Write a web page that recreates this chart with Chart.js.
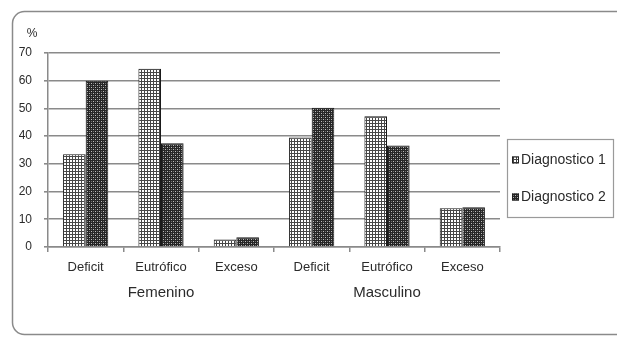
<!DOCTYPE html>
<html>
<head>
<meta charset="utf-8">
<script src="https://cdn.jsdelivr.net/npm/chart.js@4/dist/chart.umd.min.js"></script>
<style>
  html, body { margin: 0; padding: 0; background: #fff; }
  #wrap { width: 617px; height: 338px; position: relative; }
</style>
</head>
<body>
<div id="wrap"><canvas id="c" width="617" height="338"></canvas></div>
<script>
// Nutritional status categories, repeated for each sex
const categories = ['Deficit', 'Eutrófico', 'Exceso', 'Deficit', 'Eutrófico', 'Exceso'];
const groups = ['Femenino', 'Masculino'];
const seriesNames = ['Diagnostico 1', 'Diagnostico 2'];
const diagnostico1 = [33.5, 64.3, 2.7, 39.5, 47.2, 14.0];
const diagnostico2 = [60.0, 37.4, 3.5, 50.2, 36.6, 14.3];
const yTicks = [0, 10, 20, 30, 40, 50, 60, 70];

const FONT = '"Liberation Sans", Arial, sans-serif';
const TEXT = '#2b2b2b';
const GRID = '#8a8a8a';

// Fine grid hatch
function gridPattern() {
  const t = document.createElement('canvas');
  t.width = 3; t.height = 3;
  const g = t.getContext('2d');
  g.fillStyle = '#ffffff'; g.fillRect(0, 0, 3, 3);
  g.fillStyle = '#474747';
  g.fillRect(0, 0, 3, 1);
  g.fillRect(0, 0, 1, 3);
  return g.createPattern(t, 'repeat');
}
// Dark dotted hatch
function dotPattern() {
  const t = document.createElement('canvas');
  t.width = 4; t.height = 4;
  const g = t.getContext('2d');
  g.fillStyle = '#262626'; g.fillRect(0, 0, 4, 4);
  g.fillStyle = '#bdbdbd';
  g.fillRect(1, 1, 1, 1);
  g.fillRect(3, 3, 1, 1);
  g.fillStyle = '#6e6e6e';
  g.fillRect(3, 1, 1, 1);
  g.fillRect(1, 3, 1, 1);
  return g.createPattern(t, 'repeat');
}

const fills = [gridPattern(), dotPattern()];

// Rounded frame, percent sign and boxed legend
const decor = {
  id: 'decor',
  beforeDraw(chart) {
    const ctx = chart.ctx;
    ctx.save();
    ctx.fillStyle = '#fff';
    ctx.fillRect(0, 0, chart.width, chart.height);
    ctx.strokeStyle = '#8a8a8a';
    ctx.lineWidth = 1.5;
    ctx.beginPath();
    ctx.roundRect(12.5, 11.5, 640, 323, 12);
    ctx.stroke();
    ctx.restore();
  },
  afterDraw(chart) {
    const ctx = chart.ctx;
    ctx.save();
    ctx.fillStyle = TEXT;
    ctx.font = '12px ' + FONT;
    ctx.textAlign = 'center';
    ctx.textBaseline = 'middle';
    ctx.fillText('%', 32, 34);

    // legend box
    ctx.strokeStyle = '#9a9a9a';
    ctx.lineWidth = 1.2;
    ctx.strokeRect(507.5, 139.5, 106, 78);
    const ys = [160, 197];
    chart.data.datasets.forEach((ds, i) => {
      ctx.fillStyle = ds.backgroundColor;
      ctx.fillRect(512, ys[i] - 3.5, 7, 7);
      ctx.strokeStyle = '#222';
      ctx.lineWidth = 1;
      ctx.strokeRect(512.5, ys[i] - 3, 6, 6);
      ctx.fillStyle = TEXT;
      ctx.font = '14px ' + FONT;
      ctx.textAlign = 'left';
      ctx.fillText(ds.label, 521, ys[i] + 0.5);
    });
    ctx.restore();
  }
};

new Chart(document.getElementById('c'), {
  type: 'bar',
  data: {
    labels: categories,
    datasets: [
      { label: seriesNames[0], data: diagnostico1, backgroundColor: fills[0],
        borderColor: '#1a1a1a', borderWidth: 1, categoryPercentage: 0.6, barPercentage: 1.0 },
      { label: seriesNames[1], data: diagnostico2, backgroundColor: fills[1],
        borderColor: '#1a1a1a', borderWidth: 1, categoryPercentage: 0.6, barPercentage: 1.0 }
    ]
  },
  options: {
    responsive: false,
    animation: false,
    devicePixelRatio: 1,
    layout: { padding: { left: 0, right: 117, top: 53, bottom: 34 } },
    plugins: { legend: { display: false }, tooltip: { enabled: false } },
    scales: {
      x: {
        type: 'category',
        position: 'bottom',
        offset: true,
        grid: { display: true, drawOnChartArea: false, drawTicks: true, tickLength: 5,
                offset: true, color: GRID, lineWidth: 1.5 },
        border: { display: true, color: GRID, width: 1.5 },
        ticks: { color: TEXT, font: { family: FONT, size: 13 }, padding: 8, maxRotation: 0, autoSkip: false },
        afterFit(s) { s.height = 32; }
      },
      x2: {
        type: 'category',
        labels: groups,
        position: 'bottom',
        offset: true,
        grid: { display: false, drawTicks: false },
        border: { display: false },
        ticks: { color: TEXT, font: { family: FONT, size: 15 }, padding: 5, maxRotation: 0 },
        afterFit(s) { s.height = 25; }
      },
      y: {
        min: 0,
        max: 70,
        afterBuildTicks(s) { s.ticks = yTicks.map(v => ({ value: v })); },
        grid: { color: GRID, lineWidth: 1.6, tickLength: 4, tickColor: GRID },
        border: { display: true, color: GRID, width: 1.5 },
        ticks: { color: TEXT, font: { family: FONT, size: 12 }, padding: 12 },
        afterFit(s) { s.width = 48; }
      }
    }
  },
  plugins: [decor]
});
</script>
</body>
</html>
